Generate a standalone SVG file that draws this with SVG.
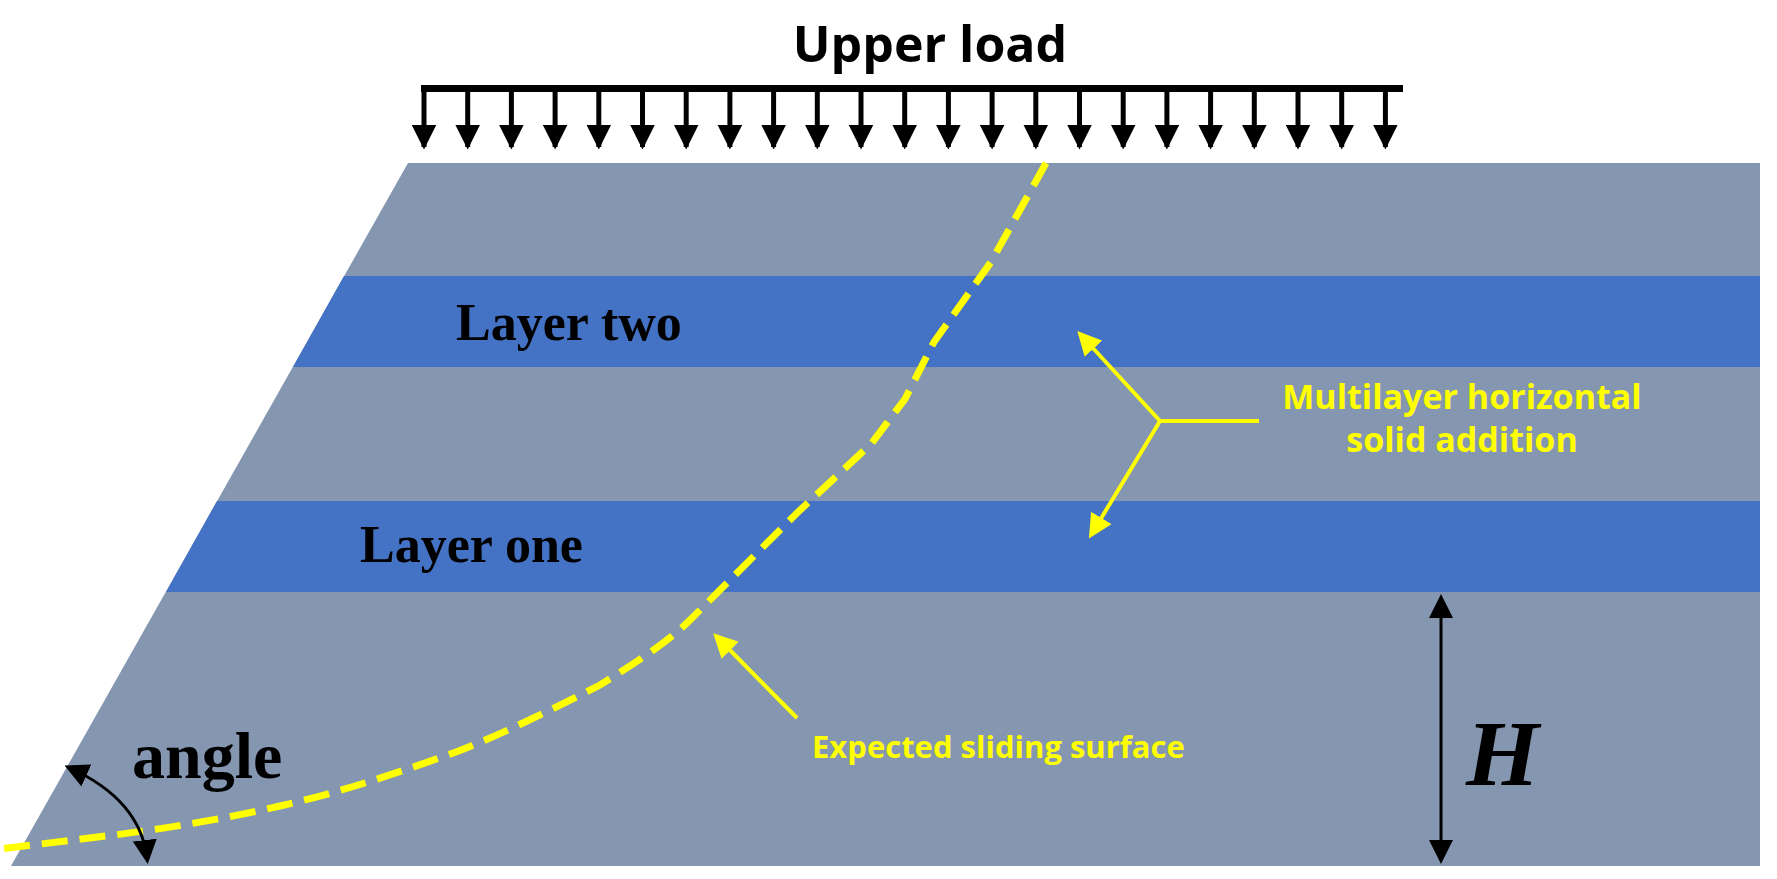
<svg xmlns="http://www.w3.org/2000/svg" width="1777" height="879" viewBox="0 0 1777 879">
<style>
.ser{font-family:"Liberation Serif","Times New Roman",serif;font-weight:bold;fill:#000}
.sans{font-family:"Open Sans","Liberation Sans",sans-serif;font-weight:bold}
.ld line{stroke:#000;stroke-width:5}
.yl{stroke:#FFFF00;stroke-width:4;fill:none}
</style>
<defs>
<marker id="ab" markerWidth="8" markerHeight="8" refX="6" refY="4" orient="auto-start-reverse" markerUnits="strokeWidth"><path d="M0,0 L8,4 L0,8 z" fill="#000"/></marker>
<marker id="ay" markerWidth="6" markerHeight="6" refX="5" refY="3" orient="auto" markerUnits="strokeWidth"><path d="M0,0 L6,3 L0,6 z" fill="#FFFF00"/></marker>
<marker id="ad" markerWidth="5" markerHeight="5" refX="4.5" refY="2.5" orient="auto" markerUnits="strokeWidth"><path d="M0,0 L5,2.5 L0,5 z" fill="#000"/></marker>
</defs>
<rect width="1777" height="879" fill="#fff"/>
<g id="slope"><polygon points="408,163 1760,163 1760,866 11,866" fill="#8496B0"/></g>
<g id="layer-two"><polygon points="344,276 1760,276 1760,367 293,367" fill="#4472C4"/><text class="ser" x="456" y="340" font-size="52">Layer two</text></g>
<g id="layer-one"><polygon points="217,501 1760,501 1760,592 166,592" fill="#4472C4"/><text class="ser" x="360" y="562" font-size="52">Layer one</text></g>
<g id="upper-load">
<text class="sans" x="930" y="62" font-size="50" text-anchor="middle" fill="#000">Upper load</text>
<rect x="421" y="85" width="982" height="7" fill="#000"/>
</g>
<g id="connectors">
<g class="ld">
<line x1="424" y1="88" x2="424" y2="147" marker-end="url(#ad)"/><line x1="467.7" y1="88" x2="467.7" y2="147" marker-end="url(#ad)"/><line x1="511.4" y1="88" x2="511.4" y2="147" marker-end="url(#ad)"/><line x1="555.1" y1="88" x2="555.1" y2="147" marker-end="url(#ad)"/><line x1="598.8" y1="88" x2="598.8" y2="147" marker-end="url(#ad)"/><line x1="642.5" y1="88" x2="642.5" y2="147" marker-end="url(#ad)"/><line x1="686.2" y1="88" x2="686.2" y2="147" marker-end="url(#ad)"/><line x1="729.9" y1="88" x2="729.9" y2="147" marker-end="url(#ad)"/><line x1="773.6" y1="88" x2="773.6" y2="147" marker-end="url(#ad)"/><line x1="817.3" y1="88" x2="817.3" y2="147" marker-end="url(#ad)"/><line x1="861" y1="88" x2="861" y2="147" marker-end="url(#ad)"/><line x1="904.7" y1="88" x2="904.7" y2="147" marker-end="url(#ad)"/><line x1="948.4" y1="88" x2="948.4" y2="147" marker-end="url(#ad)"/><line x1="992.1" y1="88" x2="992.1" y2="147" marker-end="url(#ad)"/><line x1="1035.8" y1="88" x2="1035.8" y2="147" marker-end="url(#ad)"/><line x1="1079.5" y1="88" x2="1079.5" y2="147" marker-end="url(#ad)"/><line x1="1123.2" y1="88" x2="1123.2" y2="147" marker-end="url(#ad)"/><line x1="1166.9" y1="88" x2="1166.9" y2="147" marker-end="url(#ad)"/><line x1="1210.6" y1="88" x2="1210.6" y2="147" marker-end="url(#ad)"/><line x1="1254.3" y1="88" x2="1254.3" y2="147" marker-end="url(#ad)"/><line x1="1298" y1="88" x2="1298" y2="147" marker-end="url(#ad)"/><line x1="1341.7" y1="88" x2="1341.7" y2="147" marker-end="url(#ad)"/><line x1="1385.4" y1="88" x2="1385.4" y2="147" marker-end="url(#ad)"/>
</g>
<path d="M1046,163 L991,262 L934,342 L905,399 L871,444 L797,513 L729,581 L689,621 C670,640 640,660 600,685 C547,712 500,735 456,752 C400,772 342,792 280,806 C228,818 170,828 114,835 L0,849" fill="none" stroke="#FFFF00" stroke-width="7" stroke-dasharray="26,12"/>
<line class="yl" x1="1160" y1="421" x2="1259" y2="421"/>
<line class="yl" x1="1160" y1="421" x2="1080" y2="334" marker-end="url(#ay)"/>
<line class="yl" x1="1160" y1="421" x2="1091" y2="535" marker-end="url(#ay)"/>
<line class="yl" x1="797" y1="718" x2="716" y2="636" marker-end="url(#ay)"/>
<line x1="1441" y1="600" x2="1441" y2="858" stroke="#000" stroke-width="3" marker-start="url(#ab)" marker-end="url(#ab)"/>
<path d="M70,768 Q140,800 147,858" fill="none" stroke="#000" stroke-width="3" marker-start="url(#ab)" marker-end="url(#ab)"/>
</g>
<g id="labels">
<text class="sans" fill="#FFFF00" font-size="34" text-anchor="middle"><tspan x="1462" y="409">Multilayer horizontal</tspan><tspan x="1462" y="452">solid addition</tspan></text>
<text class="sans" fill="#FFFF00" font-size="31" x="812" y="758">Expected sliding surface</text>
<text class="ser" x="1466" y="785" font-size="94" font-style="italic">H</text>
<text class="ser" x="132" y="778" font-size="66">angle</text>
</g>
</svg>
